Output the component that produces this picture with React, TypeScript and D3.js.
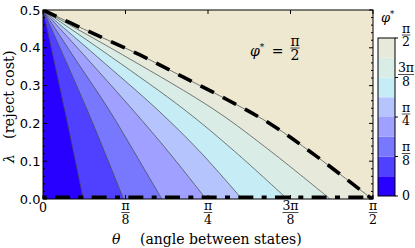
import React from 'react';
import * as d3 from 'd3';

type Pt = [number, number];

const thetaTicks = [0, 1 / 8, 1 / 4, 3 / 8, 1 / 2];
const thetaTickLabels: [string, string][] = [['0', ''], ['π', '8'], ['π', '4'], ['3π', '8'], ['π', '2']];
const lambdaTicks = [0, 0.1, 0.2, 0.3, 0.4, 0.5];

// phi* levels (units of pi) and band colours
const phiLevels = [0, 1 / 16, 2 / 16, 3 / 16, 4 / 16, 5 / 16, 6 / 16, 7 / 16, 8 / 16];
const phiTicks = [0, 1 / 8, 1 / 4, 3 / 8, 1 / 2];
const phiTickLabels: [string, string][] = [['0', ''], ['π', '8'], ['π', '4'], ['3π', '8'], ['π', '2']];
const bandColors = ['#2800ff', '#5040ff', '#7878ff', '#9fa0ff', '#b6c4fe', '#c6ecf5', '#d9ece5', '#e7eadb'];
const plateauColor = '#efe8d1';

// contour lines phi* = k*pi/16, points [theta/pi, lambda]
const contour1: Pt[] = [[0, 0.5], [0.0329, 0.235], [0.061, 0]];
const contour2: Pt[] = [[0, 0.5], [0.0671, 0.235], [0.122, 0]];
const contour3: Pt[] = [[0, 0.5], [0.047, 0.375], [0.1003, 0.235], [0.138, 0.125], [0.18, 0]];
const contour4: Pt[] = [[0, 0.5], [0.065, 0.375], [0.1364, 0.235], [0.19, 0.125], [0.247, 0]];
const contour5: Pt[] = [[0, 0.5], [0.083, 0.375], [0.1742, 0.235], [0.238, 0.125], [0.3015, 0]];
const contour6: Pt[] = [[0, 0.5], [0.104, 0.375], [0.2152, 0.235], [0.291, 0.125], [0.37, 0]];
const contour7: Pt[] = [[0, 0.5], [0.127, 0.375], [0.2606, 0.235], [0.346, 0.125], [0.435, 0]];
// phi* = pi/2 boundary (dashed)
const contour8: Pt[] = [
  [0, 0.5], [0.071, 0.442], [0.147, 0.381], [0.212, 0.323], [0.28, 0.262],
  [0.347, 0.196], [0.412, 0.116], [0.4985, 0],
];
const contours = [contour1, contour2, contour3, contour4, contour5, contour6, contour7, contour8];

const SERIF = "'DejaVu Serif', serif";
const SANS = "'DejaVu Sans', sans-serif";

const Frac = ({ cx, bar, num, den, size }: { cx: number; bar: number; num: string; den: string; size: number }) => {
  const w = Math.max(num.length, den.length) * size * 0.6 + 1;
  return (
    <g fontFamily={SERIF} fontSize={size} textAnchor="middle">
      <text x={cx} y={bar - 2.5}>{num}</text>
      <line x1={cx - w / 2} x2={cx + w / 2} y1={bar} y2={bar} stroke="#000" strokeWidth={0.7} />
      <text x={cx} y={bar + size * 0.88}>{den}</text>
    </g>
  );
};

export default function App() {
  const x = d3.scaleLinear().domain([0, 0.5]).range([43, 373]);
  const y = d3.scaleLinear().domain([0, 0.5]).range([199, 10]);
  const cb = d3.scaleLinear().domain([0, 0.5]).range([196, 38]);
  const cbX = 378;
  const cbW = 17;

  const line = d3.line<Pt>().x(d => x(d[0])).y(d => y(d[1])).curve(d3.curveCatmullRom.alpha(0.5));
  const closeRight = `L${x(0.5)},${y(0)}L${x(0.5)},${y(0.5)}Z`;
  const minorY = y.ticks(25);

  return (
    <svg width={415} height={248} style={{ position: 'absolute', left: 0, top: 0 }}>
      <defs>
        <clipPath id="plot">
          <rect x={x(0)} y={y(0.5)} width={x(0.5) - x(0)} height={y(0) - y(0.5)} />
        </clipPath>
      </defs>
      <rect width={415} height={248} fill="#fff" />

      <g clipPath="url(#plot)">
        <rect x={x(0)} y={y(0.5)} width={x(0.5) - x(0)} height={y(0) - y(0.5)} fill={bandColors[0]} />
        {contours.map((ct, i) => (
          <path key={i} d={line(ct) + closeRight} fill={i < 7 ? bandColors[i + 1] : plateauColor} />
        ))}
        {contours.map((ct, i) => (
          <path key={'l' + i} d={line(ct) || ''} fill="none" stroke="#444" strokeWidth={0.7} />
        ))}
        <path d={line(contour8) || ''} fill="none" stroke="#000" strokeWidth={3.6} strokeDasharray="15 10" />
        <line x1={x(0)} x2={x(0.5)} y1={y(0)} y2={y(0)} stroke="#000" strokeWidth={7}
          strokeDasharray="5 8.33 15 8.33" strokeDashoffset={1.3} />
      </g>

      {/* ticks */}
      {minorY.map(t => {
        const len = lambdaTicks.some(m => Math.abs(m - t) < 1e-6) ? 4 : 2;
        return (
          <g key={'y' + t} stroke="#000" strokeWidth={1}>
            <line x1={x(0)} x2={x(0) + len} y1={y(t)} y2={y(t)} />
            <line x1={x(0.5)} x2={x(0.5) - len} y1={y(t)} y2={y(t)} />
          </g>
        );
      })}
      {thetaTicks.map(t => (
        <g key={'x' + t} stroke="#000" strokeWidth={1}>
          <line x1={x(t)} x2={x(t)} y1={y(0.5)} y2={y(0.5) + 4} />
          <line x1={x(t)} x2={x(t)} y1={y(0)} y2={y(0) - 4} />
        </g>
      ))}
      <rect x={x(0)} y={y(0.5)} width={x(0.5) - x(0)} height={y(0) - y(0.5)} fill="none" stroke="#000" strokeWidth={1} />

      {/* y tick labels */}
      {lambdaTicks.map(t => (
        <text key={'yl' + t} x={40.5} y={y(t)} dy="0.35em" textAnchor="end" fontFamily={SANS} fontSize={13}>
          {t.toFixed(1)}
        </text>
      ))}
      {/* x tick labels */}
      {thetaTicks.map((t, i) =>
        thetaTickLabels[i][1] === '' ? (
          <text key={'xl' + t} x={x(t)} y={212} textAnchor="middle" fontFamily={SERIF} fontSize={12.5}>
            {thetaTickLabels[i][0]}
          </text>
        ) : (
          <Frac key={'xl' + t} cx={x(t)} bar={212.5} num={thetaTickLabels[i][0]} den={thetaTickLabels[i][1]} size={12.5} />
        )
      )}

      {/* axis labels */}
      <text x={112} y={244} fontFamily={SERIF} fontSize={14} fontStyle="italic">θ</text>
      <text x={140} y={244} fontFamily={SERIF} fontSize={14}>(angle between states)</text>
      <text transform="translate(14,163) rotate(-90)" fontFamily={SERIF} fontSize={14} fontStyle="italic">λ</text>
      <text transform="translate(14,139) rotate(-90)" fontFamily={SERIF} fontSize={14.5}>(reject cost)</text>

      {/* annotation */}
      <text x={250} y={56} fontFamily={SERIF} fontSize={14} fontStyle="italic">
        φ<tspan fontSize={9} dy={-6} fontStyle="normal">*</tspan>
      </text>
      <text x={277.5} y={56} textAnchor="middle" fontFamily={SERIF} fontSize={14}>=</text>
      <Frac cx={295} bar={48} num="π" den="2" size={14} />

      {/* colorbar */}
      {bandColors.map((col, i) => (
        <rect key={'cb' + i} x={cbX} y={cb(phiLevels[i + 1])} width={cbW}
          height={cb(phiLevels[i]) - cb(phiLevels[i + 1])} fill={col} />
      ))}
      <rect x={cbX} y={cb(0.5)} width={cbW} height={cb(0) - cb(0.5)} fill="none" stroke="#000" strokeWidth={1} />
      {phiTicks.map((t, i) => (
        <g key={'ct' + t}>
          <line x1={cbX + cbW} x2={cbX + cbW + 3} y1={cb(t)} y2={cb(t)} stroke="#000" strokeWidth={1} />
          {phiTickLabels[i][1] === '' ? (
            <text x={406} y={cb(t)} dy="0.35em" textAnchor="middle" fontFamily={SERIF} fontSize={12.5}>
              {phiTickLabels[i][0]}
            </text>
          ) : (
            <Frac key={'cf' + t} cx={406} bar={cb(t) - 3} num={phiTickLabels[i][0]} den={phiTickLabels[i][1]} size={12.5} />
          )}
        </g>
      ))}
      <text x={381} y={22} fontFamily={SERIF} fontSize={13} fontStyle="italic">
        φ<tspan fontSize={8.5} dy={-5} fontStyle="normal">*</tspan>
      </text>
    </svg>
  );
}
